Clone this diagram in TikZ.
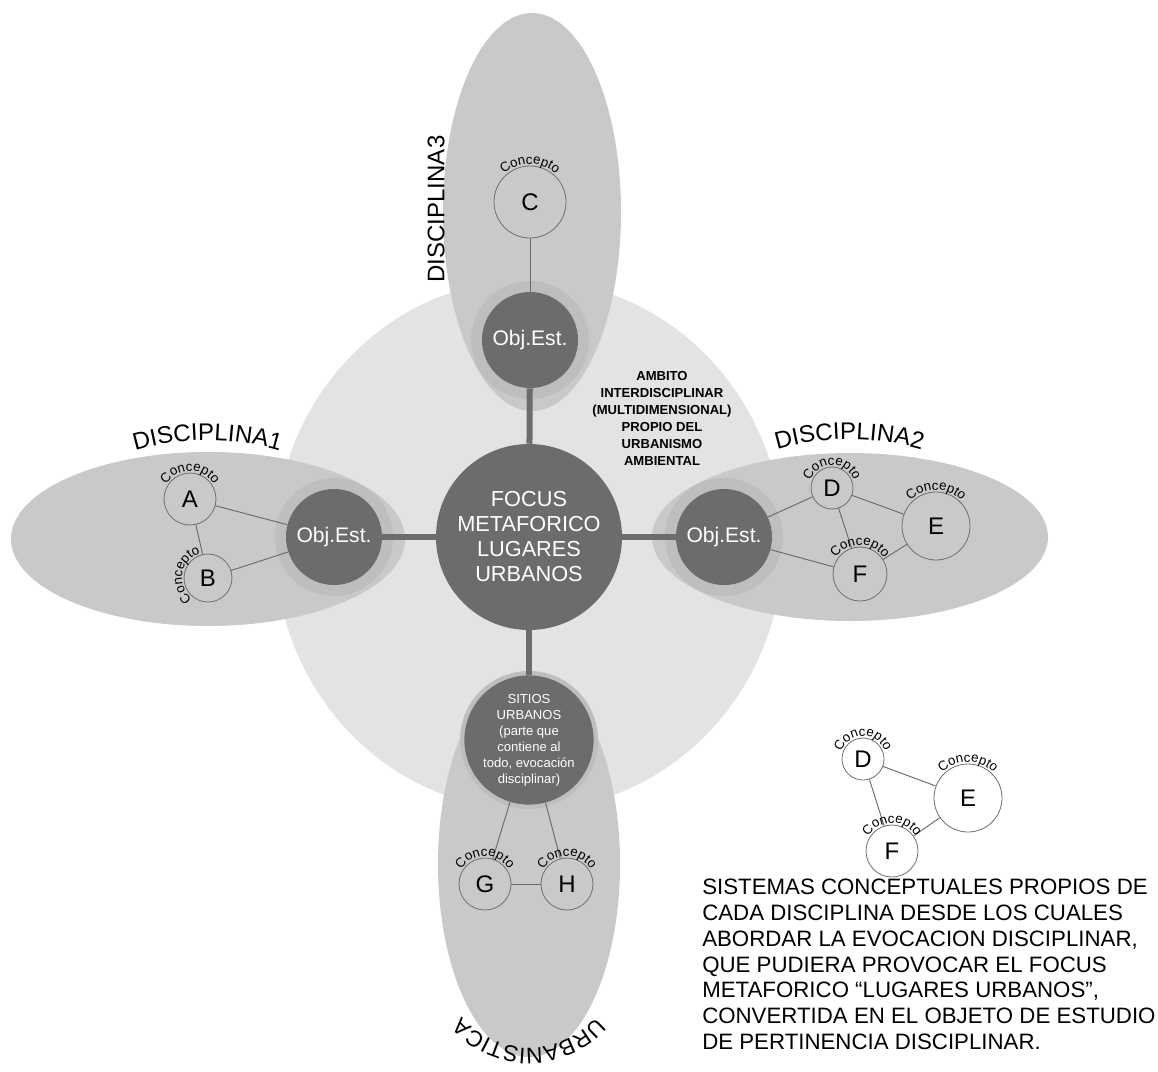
\documentclass[tikz,border=0pt]{standalone}
\usepackage{fontspec}
\setmainfont{Liberation Sans}
\usetikzlibrary{decorations.text}

% label "Concepto" bent round a concept circle: node, radius, middle angle
\newcommand{\concepto}[3]{%
  \path [decorate, decoration={text along path, text align=center,
    text={|\fontsize{10}{12}\selectfont|Concepto}}]
    (#1.center) ++({#3-90}:#2) arc [start angle={#3-90}, end angle={#3+90}, radius=#2];}

\begin{document}
\begin{tikzpicture}[x=0.75pt,y=0.75pt,yscale=-1,xscale=1,
  ambito/.style={fill={rgb, 255:red, 227; green, 227; blue, 227 }},
  discip/.style={fill={rgb, 255:red, 201; green, 201; blue, 201 }},
  halo/.style={fill={rgb, 255:red, 190; green, 190; blue, 190 }},
  objest/.style={circle, fill={rgb, 255:red, 108; green, 108; blue, 108 }, text=white, inner sep=0pt, align=center},
  concept/.style={circle, draw={rgb, 255:red, 110; green, 110; blue, 110 }, line width=0.6pt, inner sep=0pt, font=\fontsize{18}{20}\selectfont},
  thin link/.style={draw={rgb, 255:red, 105; green, 105; blue, 105 }, line width=0.7pt},
  thick link/.style={draw={rgb, 255:red, 108; green, 108; blue, 108 }, line width=4.5pt}]
\useasboundingbox (0,0) rectangle (1158,1072);
%Shape: Ellipse [ambito interdisciplinar]
\fill [ambito] (529,545) ellipse (254 and 265);
%Shape: Ellipse [disciplinas]
\fill [discip] (208,539) ellipse (197 and 87);
\fill [discip] (850,537) ellipse (198 and 84);
\fill [discip] (532,212) ellipse (89 and 199);
\fill [discip] (529,864) ellipse (91 and 193);
%Shape: Circle [halos]
\fill [halo] (334,537) circle (59);
\fill [halo] (724,537) circle (59);
\fill [halo] (530,340) circle (59);
\fill [halo] (529,740) circle (69);

% Focus and objects of study
\node [objest, minimum size=139.5pt, font=\fontsize{16.3}{18.75}\selectfont] (focus) at (529,537) {FOCUS\\METAFORICO\\LUGARES\\URBANOS};
\node [objest, minimum size=72pt, font=\fontsize{15.8}{18}\selectfont] (obj1) at (334,537) {Obj.Est.};
\node [objest, minimum size=72pt, font=\fontsize{15.8}{18}\selectfont] (obj2) at (724,537) {Obj.Est.};
\node [objest, minimum size=72pt, font=\fontsize{15.8}{18}\selectfont] (obj3) at (530,340) {Obj.Est.};
\node [objest, minimum size=88.5pt, font=\fontsize{9.8}{12}\selectfont] (sitios) at (529,740) {SITIOS\\URBANOS\\(parte que\\contiene al\\todo, evocación\\disciplinar)};
\draw [thick link] (focus) -- (obj1);
\draw [thick link] (focus) -- (obj2);
\draw [thick link] (focus) -- (obj3);
\draw [thick link] (focus) -- (sitios);

% Concepts
\node [concept, minimum size=39pt] (A) at (190,499) {A};
\node [concept, minimum size=36pt] (B) at (208,578) {B};
\node [concept, minimum size=54pt] (C) at (530,202) {C};
\node [concept, minimum size=31.5pt] (D) at (832,488) {D};
\node [concept, minimum size=51pt] (E) at (936,526) {E};
\node [concept, minimum size=40.5pt] (F) at (860,574) {F};
\node [concept, minimum size=39pt] (G) at (485,884) {G};
\node [concept, minimum size=39pt] (H) at (567,884) {H};
\draw [thin link] (A) -- (B);
\draw [thin link] (A) -- (obj1);
\draw [thin link] (B) -- (obj1);
\draw [thin link] (C) -- (obj3);
\draw [thin link] (obj2) -- (D);
\draw [thin link] (obj2) -- (F);
\draw [thin link] (D) -- (E);
\draw [thin link] (D) -- (F);
\draw [thin link] (F) -- (E);
\draw [thin link] (sitios) -- (G);
\draw [thin link] (sitios) -- (H);
\draw [thin link] (G) -- (H);
\concepto{A}{28}{-90}
\concepto{B}{26}{190}
\concepto{C}{38}{-90}
\concepto{D}{23}{-90}
\concepto{E}{36}{-90}
\concepto{F}{29}{-90}
\concepto{G}{28}{-90}
\concepto{H}{28}{-90}

% Legend system
\node [concept, minimum size=31.5pt] (Dl) at (863,759) {D};
\node [concept, minimum size=51pt] (El) at (968,798) {E};
\node [concept, minimum size=39pt] (Fl) at (892,851) {F};
\draw [thin link] (Dl) -- (El);
\draw [thin link] (Dl) -- (Fl);
\draw [thin link] (Fl) -- (El);
\concepto{Dl}{23}{-90}
\concepto{El}{36}{-90}
\concepto{Fl}{28}{-90}

% Text Node
\path [decorate, decoration={text along path, text align=center, text={|\fontsize{18}{20}\selectfont|DISCIPLINA1}}] (128,453) .. controls (180,436) and (235,436) .. (287,453);
% Text Node
\path [decorate, decoration={text along path, text align=center, text={|\fontsize{18}{20}\selectfont|DISCIPLINA2}}] (770,452) .. controls (822,435) and (877,435) .. (929,452);
% Text Node
\node [rotate=90, font=\fontsize{18}{20}\selectfont] (disc3) at (436,209) {DISCIPLINA3};
% Text Node
\path [decorate, decoration={text along path, text align=center, text={|\fontsize{17}{20}\selectfont|URBANISTICA}}] (529,960) ++(0:88) arc [start angle=0, end angle=180, radius=88];
% Text Node
\node [font=\bfseries\fontsize{9.8}{12.75}\selectfont, align=center] (amb) at (662,418) {AMBITO\\INTERDISCIPLINAR\\(MULTIDIMENSIONAL)\\PROPIO DEL\\URBANISMO\\AMBIENTAL};
% Text Node
\node [anchor=north west, inner sep=0pt, align=left, font=\fontsize{16.7}{19.3}\selectfont] (nota) at (702,879) {SISTEMAS CONCEPTUALES PROPIOS DE\\CADA DISCIPLINA DESDE LOS CUALES\\ABORDAR LA EVOCACION DISCIPLINAR,\\QUE PUDIERA PROVOCAR EL FOCUS\\METAFORICO “LUGARES URBANOS”,\\CONVERTIDA EN EL OBJETO DE ESTUDIO\\DE PERTINENCIA DISCIPLINAR.};
\end{tikzpicture}
\end{document}
